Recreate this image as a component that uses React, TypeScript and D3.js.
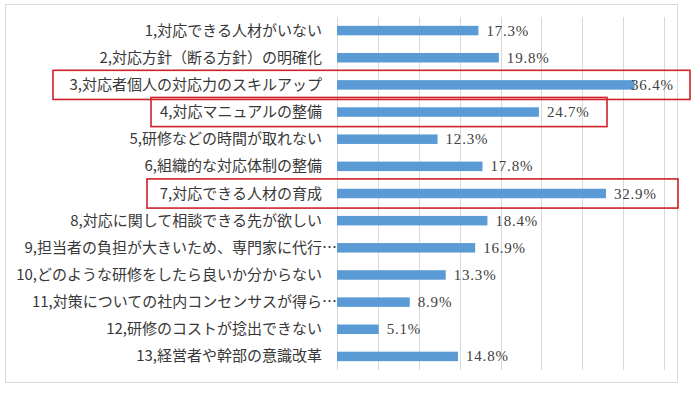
import React from "react";
import * as d3 from "d3";

const categories = [
  "1,対応できる人材がいない",
  "2,対応方針（断る方針）の明確化",
  "3,対応者個人の対応力のスキルアップ",
  "4,対応マニュアルの整備",
  "5,研修などの時間が取れない",
  "6,組織的な対応体制の整備",
  "7,対応できる人材の育成",
  "8,対応に関して相談できる先が欲しい",
  "9,担当者の負担が大きいため、専門家に代行…",
  "10,どのような研修をしたら良いか分からない",
  "11,対策についての社内コンセンサスが得ら…",
  "12,研修のコストが捻出できない",
  "13,経営者や幹部の意識改革",
];
const values = [17.3, 19.8, 36.4, 24.7, 12.3, 17.8, 32.9, 18.4, 16.9, 13.3, 8.9, 5.1, 14.8];
const ticks = [0, 5, 10, 15, 20, 25, 30, 35, 40];
const highlighted = [
  { idx: 2, left: 53, right: 690 },
  { idx: 3, left: 151, right: 607 },
  { idx: 6, left: 147, right: 678 },
];

export default function App() {
  const W = 700, H = 397;
  const x = d3.scaleLinear().domain([0, 40]).range([337, 664]);
  const y = d3.scaleBand<number>().domain(d3.range(categories.length)).range([17, 370]).paddingInner(0.65).paddingOuter(0.325);
  const step = y.step();
  const labelFont = "'Noto Sans CJK JP', 'Noto Sans', sans-serif";
  const numFont = "'Liberation Serif', 'DejaVu Serif', serif";
  return (
    <svg width={W} height={H} style={{ position: "absolute", left: 0, top: 0, background: "#fff" }}>
      <rect x={5.5} y={4.5} width={672} height={378} fill="#fff" stroke="#d9d9d9" strokeWidth={1} />
      {ticks.map((t) => (
        <line key={t} x1={Math.round(x(t)) + 0.5} x2={Math.round(x(t)) + 0.5} y1={17} y2={370} stroke="#d9d9d9" strokeWidth={1} />
      ))}
      {values.map((v, i) => {
        const yc = (y(i) as number) + y.bandwidth() / 2;
        const end = x(v);
        const lx = Math.min(end + 8, 676 - 45);
        return (
          <g key={i}>
            <rect x={x(0)} y={y(i)} width={end - x(0)} height={y.bandwidth()} fill="#5b9bd5" />
            <text x={lx} y={yc + 5} fontFamily={numFont} fontSize={15} letterSpacing={0.8} fill="#404040">
              {v.toFixed(1) + "%"}
            </text>
            <text x={categories[i].endsWith("…") ? 337 : 322} y={yc + 5} textAnchor="end" fontFamily={labelFont} fontSize={15} fill="#383838">
              {categories[i]}
            </text>
          </g>
        );
      })}
      {highlighted.map((h) => {
        const yc = (y(h.idx) as number) + y.bandwidth() / 2;
        return (
          <rect key={h.idx} x={h.left} y={yc - step / 2 - 1} width={h.right - h.left} height={step + 2} fill="none" stroke="#d0202a" strokeWidth={1.6} />
        );
      })}
    </svg>
  );
}
